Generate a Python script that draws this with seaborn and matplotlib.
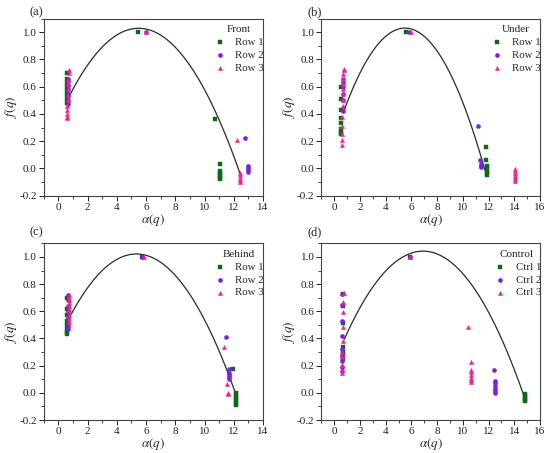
import numpy as np
import pandas as pd
import matplotlib
matplotlib.use("Agg")
import matplotlib.pyplot as plt
from matplotlib.ticker import AutoMinorLocator, MultipleLocator
import seaborn as sns

# Panel (a) - Front
a_row1_alpha = [0.62] * 8 + [5.45, 10.73, 11.03, 11.03, 11.03, 11.03, 11.03, 11.03]
a_row1_f = [0.70, 0.66, 0.63, 0.60, 0.57, 0.54, 0.51, 0.48, 1.0, 0.36, 0.03, -0.02, -0.035, -0.05, -0.065, -0.08]
a_row2_alpha = [0.63] * 8 + [6.0, 12.8, 12.95, 12.95, 12.95, 12.95]
a_row2_f = [0.66, 0.64, 0.61, 0.58, 0.55, 0.53, 0.50, 0.47, 1.0, 0.22, 0.02, 0.005, -0.01, -0.025]
a_row3_alpha = [0.70, 0.70, 0.68, 0.68, 0.66, 0.65, 0.64, 0.62, 0.62, 0.61, 0.61, 0.61,
                6.0, 12.2, 12.42, 12.42, 12.42, 12.42, 12.42]
a_row3_f = [0.72, 0.70, 0.65, 0.62, 0.58, 0.54, 0.50, 0.46, 0.43, 0.40, 0.38, 0.37,
            1.0, 0.21, -0.03, -0.05, -0.07, -0.085, -0.10]
a_fit_alpha = [0.68, 2, 4, 5.5, 8, 10.33, 12.42]
a_fit_f = [0.514, 0.76, 0.98, 1.033, 0.89, 0.50, -0.03]

# Panel (b) - Under
b_row1_alpha = [0.52] * 8 + [5.56, 11.77, 11.82, 11.87, 11.87, 11.87, 11.87, 11.87]
b_row1_f = [0.60, 0.51, 0.43, 0.37, 0.33, 0.29, 0.27, 0.25, 1.0, 0.16, 0.065, 0.02, 0.0, -0.02, -0.035, -0.05]
b_row2_alpha = [0.65] * 7 + [5.79, 11.2, 11.33, 11.38, 11.38, 11.38]
b_row2_f = [0.66, 0.63, 0.60, 0.55, 0.50, 0.44, 0.42, 1.0, 0.31, 0.065, 0.03, 0.02, 0.01]
b_row3_alpha = [0.72, 0.72, 0.70, 0.70, 0.68, 0.68, 0.66, 0.66, 0.64, 0.62, 0.62, 0.60, 0.60, 0.60,
                6.0, 14.03, 14.03, 14.03, 14.03, 14.03, 14.03, 14.03]
b_row3_f = [0.73, 0.72, 0.69, 0.66, 0.62, 0.58, 0.55, 0.50, 0.46, 0.38, 0.31, 0.25, 0.21, 0.17,
            1.0, -0.005, -0.02, -0.035, -0.05, -0.065, -0.08, -0.09]
b_fit_alpha = [0.7, 2, 4, 5.5, 8, 9.9, 11.72]
b_fit_f = [0.41, 0.70, 0.97, 1.03, 0.86, 0.51, -0.015]

# Panel (c) - Behind
c_row1_alpha = [0.61] * 8 + [5.75, 11.95, 12.12, 12.12, 12.12, 12.12, 12.12, 12.12]
c_row1_f = [0.70, 0.62, 0.57, 0.53, 0.50, 0.47, 0.45, 0.43, 1.0, 0.172, 0.0, -0.02, -0.04, -0.06, -0.075, -0.09]
c_row2_alpha = [0.66] * 8 + [5.7, 11.5, 11.64, 11.68, 11.68, 11.68, 11.68]
c_row2_f = [0.72, 0.68, 0.64, 0.60, 0.56, 0.52, 0.49, 0.47, 1.0, 0.41, 0.176, 0.147, 0.13, 0.115, 0.10]
c_row3_alpha = [0.72] * 10 + [5.85, 11.32, 11.55, 11.6, 11.6]
c_row3_f = [0.72, 0.70, 0.68, 0.66, 0.64, 0.62, 0.60, 0.57, 0.55, 0.52, 1.0, 0.336, 0.066, 0.0, -0.012]
c_fit_alpha = [0.72, 2, 4, 5.35, 8, 10, 12.1]
c_fit_f = [0.55, 0.77, 0.98, 1.022, 0.865, 0.54, 0.0]

# Panel (d) - Control
d_ctrl1_alpha = [0.65] * 7 + [5.89, 14.83, 14.83, 14.83, 14.83, 14.83]
d_ctrl1_f = [0.73, 0.64, 0.516, 0.34, 0.30, 0.287, 0.25, 1.0, -0.01, -0.025, -0.04, -0.05, -0.063]
d_ctrl2_alpha = [0.62] * 9 + [5.89, 12.42, 12.5, 12.5, 12.5, 12.5, 12.5, 12.5]
d_ctrl2_f = [0.73, 0.65, 0.528, 0.415, 0.324, 0.27, 0.233, 0.188, 0.16, 1.0, 0.169, 0.09, 0.07, 0.05, 0.03, 0.015, 0.0]
d_ctrl3_alpha = [0.72, 0.70, 0.68, 0.66, 0.64, 0.62, 0.60, 0.60, 0.60, 0.60,
                 5.89, 10.42, 10.6, 10.63, 10.63, 10.63, 10.63, 10.63, 10.63]
d_ctrl3_f = [0.734, 0.668, 0.594, 0.483, 0.385, 0.30, 0.262, 0.208, 0.169, 0.149,
             1.0, 0.483, 0.225, 0.17, 0.15, 0.13, 0.11, 0.095, 0.08]
d_fit_alpha = [0.78, 2, 4, 6.9, 9, 12, 14.75]
d_fit_f = [0.39, 0.63, 0.90, 1.042, 0.966, 0.59, -0.02]

panel_letters = ['(a)', '(b)', '(c)', '(d)']
legend_titles = ['Front', 'Under', 'Behind', 'Control']
row_labels = ['Row 1', 'Row 2', 'Row 3']
ctrl_labels = ['Ctrl 1', 'Ctrl 2', 'Ctrl 3']

COLORS = ['#0b6b12', '#7a1ff0', '#ff1a8c']
MARKERS = ['s', 'o', '^']

sns.set_style('ticks')
plt.rcParams['font.family'] = ['Liberation Serif', 'DejaVu Serif']
plt.rcParams['mathtext.fontset'] = 'stix'
plt.rcParams['axes.linewidth'] = 0.8
plt.rcParams['axes.edgecolor'] = '#333333'

fig = plt.figure(figsize=(5.5, 4.53), dpi=100)

# axes boxes in figure fractions
boxes = [
    [0.0796, 0.568, 0.3986, 0.391],
    [0.5844, 0.568, 0.3974, 0.391],
    [0.0796, 0.0728, 0.3986, 0.390],
    [0.5844, 0.0728, 0.3974, 0.390],
]
xmaxes = [14, 16, 14, 16]
letter_pos = [(29, 12), (307, 12), (29, 232), (307, 232)]

panels = [
    ([(a_row1_alpha, a_row1_f), (a_row2_alpha, a_row2_f), (a_row3_alpha, a_row3_f)], (a_fit_alpha, a_fit_f), row_labels),
    ([(b_row1_alpha, b_row1_f), (b_row2_alpha, b_row2_f), (b_row3_alpha, b_row3_f)], (b_fit_alpha, b_fit_f), row_labels),
    ([(c_row1_alpha, c_row1_f), (c_row2_alpha, c_row2_f), (c_row3_alpha, c_row3_f)], (c_fit_alpha, c_fit_f), row_labels),
    ([(d_ctrl1_alpha, d_ctrl1_f), (d_ctrl2_alpha, d_ctrl2_f), (d_ctrl3_alpha, d_ctrl3_f)], (d_fit_alpha, d_fit_f), ctrl_labels),
]

for i, (series, fit, labels) in enumerate(panels):
    ax = fig.add_axes(boxes[i])

    # fitted spectrum curve (quadratic)
    sns.regplot(x=np.array(fit[0]), y=np.array(fit[1]), order=2, ci=None, scatter=False,
                line_kws={'color': '#2b2b2b', 'lw': 0.9}, ax=ax)

    for j, (xs, ys) in enumerate(series):
        sns.scatterplot(x=xs, y=ys, marker=MARKERS[j], color=COLORS[j], s=9,
                        edgecolor=COLORS[j], linewidth=0.3, label=labels[j], ax=ax, zorder=3)

    ax.set_xlim(-1, xmaxes[i])
    ax.set_ylim(-0.2, 1.1)
    ax.xaxis.set_major_locator(MultipleLocator(2))
    ax.yaxis.set_major_locator(MultipleLocator(0.2))
    ax.xaxis.set_minor_locator(AutoMinorLocator(2))
    ax.yaxis.set_minor_locator(AutoMinorLocator(2))
    ax.yaxis.set_major_formatter(matplotlib.ticker.FormatStrFormatter('%.1f'))
    ax.tick_params(which='major', direction='out', length=3.5, width=0.7, labelsize=8, pad=1.5,
                   colors='#222222')
    ax.tick_params(which='minor', direction='out', length=2, width=0.6)
    ax.set_xlabel(r'$\alpha(q)$', fontsize=9.5, labelpad=0)
    ax.set_ylabel(r'$f(q)$', fontsize=9.5, labelpad=0)
    for sp in ax.spines.values():
        sp.set_visible(True)
        sp.set_color('#444444')

    ax.legend(title=legend_titles[i], loc='upper right', frameon=False, fontsize=7.8,
              title_fontsize=8, labelspacing=0.3, handletextpad=0.7, borderaxespad=0.2,
              handlelength=1.4, bbox_to_anchor=(1.035, 1.0))

    fig.text(letter_pos[i][0] / 550, 1 - letter_pos[i][1] / 453, panel_letters[i],
             fontsize=9, ha='left', va='center')

fig.savefig('out.png', dpi=100)
